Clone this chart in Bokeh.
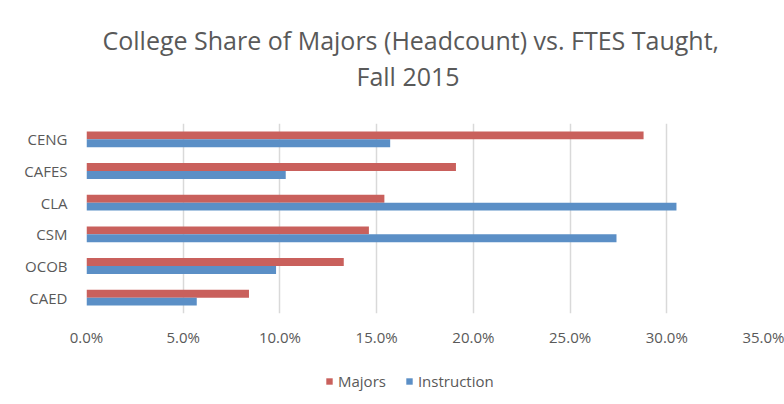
from bokeh.plotting import figure
from bokeh.layouts import column
from bokeh.models import FactorRange, Range1d, NumeralTickFormatter, Title, Legend, LegendItem, ColumnDataSource, FixedTicker
from bokeh.transform import dodge
from bokeh.embed import file_html
from bokeh.resources import INLINE

colleges = ["CENG", "CAFES", "CLA", "CSM", "OCOB", "CAED"]  # top to bottom
majors = [0.288, 0.191, 0.154, 0.146, 0.133, 0.084]
instruction = [0.157, 0.103, 0.305, 0.274, 0.098, 0.057]
x_ticks = [0.0, 0.05, 0.10, 0.15, 0.20, 0.25, 0.30, 0.35]

FONT = "Open Sans"
GREY = "#595959"
RED = "#C9605C"
BLUE = "#5B8FC6"

src = ColumnDataSource(dict(college=colleges, majors=majors, instruction=instruction))

p = figure(frame_width=677, frame_height=190, output_backend="svg", toolbar_location=None,
           y_range=FactorRange(factors=list(reversed(colleges))),
           x_range=Range1d(0, 0.35),
           min_border_left=86, min_border_right=21, min_border_top=123, min_border_bottom=49)

r1 = p.hbar(y=dodge("college", 0.125, range=p.y_range), right="majors", left=0, height=0.25,
            source=src, color=RED, line_color=None)
r2 = p.hbar(y=dodge("college", -0.125, range=p.y_range), right="instruction", left=0, height=0.25,
            source=src, color=BLUE, line_color=None)

# spacer between plot area and title
p.add_layout(Title(text=" ", text_font=FONT, text_font_size="1px", standoff=28), "above")
p.add_layout(Title(text="Fall 2015", align="left", text_font=FONT, text_font_size="25px",
                   text_font_style="normal", text_color=GREY, offset=270, standoff=0), "above")
p.add_layout(Title(text="College Share of Majors (Headcount) vs. FTES Taught,", align="left",
                   text_font=FONT, text_font_size="25px", text_font_style="normal",
                   text_color=GREY, offset=16, standoff=0), "above")

p.xaxis.ticker = FixedTicker(ticks=x_ticks)
p.xaxis.formatter = NumeralTickFormatter(format="0.0%")
for ax in (p.xaxis, p.yaxis):
    ax.axis_line_color = None
    ax.major_tick_line_color = None
    ax.minor_tick_line_color = None
    ax.major_tick_out = 0
    ax.major_tick_in = 0
    ax.minor_tick_out = 0
    ax.minor_tick_in = 0
    ax.major_label_text_font = FONT
    ax.major_label_text_font_size = "15px"
    ax.major_label_text_color = GREY
p.xaxis.major_label_standoff = 13
p.yaxis.major_label_standoff = 19

p.xgrid.grid_line_color = "#D9D9D9"
p.xgrid.grid_line_width = 1.5
p.ygrid.grid_line_color = None
p.outline_line_color = None

# legend strip below the chart (its frame is aligned with the chart's frame)
lf = figure(width=784, height=42, output_backend="svg", toolbar_location=None,
            x_range=Range1d(0, 1), y_range=Range1d(0, 1),
            x_axis_location=None, y_axis_location=None, min_border=0)
lf.grid.visible = False
lf.outline_line_color = None
offscreen = ColumnDataSource(dict(y=[-10], right=[0]))
lr1 = lf.hbar(y="y", right="right", left=0, height=0.5, source=offscreen, color=RED, line_color=None)
lr2 = lf.hbar(y="y", right="right", left=0, height=0.5, source=offscreen, color=BLUE, line_color=None)

legend = Legend(items=[LegendItem(label="Majors", renderers=[lr1]),
                       LegendItem(label="Instruction", renderers=[lr2])],
                orientation="horizontal", location=(239, 13),
                label_text_font=FONT, label_text_font_size="15px", label_text_color=GREY,
                glyph_width=8, glyph_height=8, label_standoff=5, spacing=19,
                border_line_color=None, background_fill_alpha=0, margin=0, padding=0)
lf.add_layout(legend)

layout = column(p, lf, spacing=0)
open("out.html", "w").write(file_html(layout, INLINE))
